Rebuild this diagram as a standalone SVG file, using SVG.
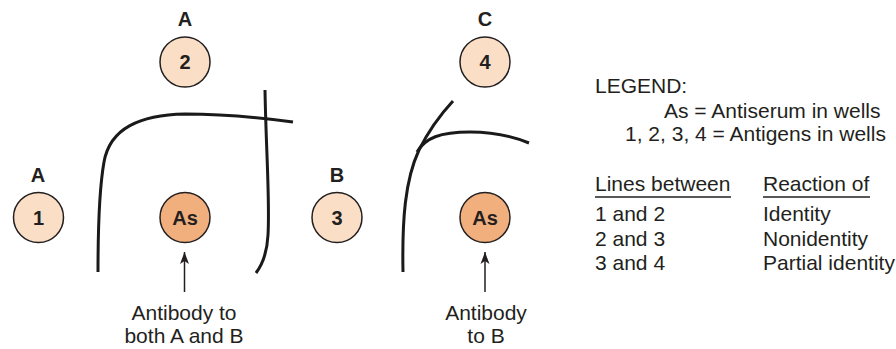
<svg xmlns="http://www.w3.org/2000/svg" width="896" height="349" viewBox="0 0 896 349">
<style>
text{font-family:"Liberation Sans",Arial,sans-serif;fill:#231f20}
.lbl{font-size:20px;font-weight:bold;text-anchor:middle}
.t{font-size:21px}
.c{text-anchor:middle}
.ag{fill:#fbdec6;stroke:#231f20;stroke-width:1.5}
.as{fill:#f2af7e;stroke:#231f20;stroke-width:1.5}
.line{fill:none;stroke:#1a1a1a;stroke-width:3;stroke-linecap:butt}
.arr{fill:none;stroke:#231f20;stroke-width:1.5}
.ul{stroke:#231f20;stroke-width:1.5}
</style>
<defs>
<marker id="ah" viewBox="0 0 12 10" refX="12" refY="5" markerWidth="13" markerHeight="10" markerUnits="userSpaceOnUse" orient="auto">
<path d="M0,0.5 L12,5 L0,9.5 L3,5 z" fill="#231f20"/>
</marker>
</defs>
<rect width="896" height="349" fill="#fff"/>
<g id="well-1"><text class="lbl" x="38" y="182">A</text><circle class="ag" cx="38.5" cy="217.5" r="25"/><text class="lbl" x="38.5" y="225">1</text></g>
<g id="well-2"><text class="lbl" x="185" y="26">A</text><circle class="ag" cx="185" cy="62" r="25"/><text class="lbl" x="185" y="69">2</text></g>
<g id="well-as1"><circle class="as" cx="185" cy="217.5" r="25"/><text class="lbl" x="185" y="225">As</text></g>
<g id="well-3"><text class="lbl" x="337" y="182">B</text><circle class="ag" cx="337" cy="217.5" r="25"/><text class="lbl" x="337" y="225">3</text></g>
<g id="well-4"><text class="lbl" x="485" y="26">C</text><circle class="ag" cx="485" cy="62" r="25"/><text class="lbl" x="485" y="69">4</text></g>
<g id="well-as2"><circle class="as" cx="485" cy="217.5" r="25"/><text class="lbl" x="485" y="225">As</text></g>
<g id="connectors">
<path class="line" d="M98,272 C98,230 99,190 104,162 C110,128 140,115 185,114 C222,114 256,117 293,122"/>
<path class="line" d="M265,90 C266,150 270,200 268,235 C267,255 262,265 256,273"/>
<path class="line" d="M403,272 C402,220 405,180 419,150 C428,132 440,115 453,101"/>
<path class="line" d="M417,152 C425,138 440,132 470,132 C495,132 512,136 529,143"/>
<path class="arr" d="M184.5,292 L184.5,252" marker-end="url(#ah)"/>
<path class="arr" d="M485,292 L485,252" marker-end="url(#ah)"/>
</g>
<g id="caption-1"><text class="t c" x="184" y="320">Antibody to</text><text class="t c" x="184" y="343">both A and B</text></g>
<g id="caption-2"><text class="t c" x="486" y="320">Antibody</text><text class="t c" x="486" y="343">to B</text></g>
<g id="legend">
<text class="t" x="595" y="93">LEGEND:</text>
<text class="t" x="664" y="117.5">As = Antiserum in wells</text>
<text class="t" x="625" y="141">1, 2, 3, 4 = Antigens in wells</text>
<text class="t" x="595" y="191">Lines between</text>
<line class="ul" x1="595" y1="197" x2="731" y2="197"/>
<text class="t" x="763" y="191">Reaction of</text>
<line class="ul" x1="763" y1="197" x2="870" y2="197"/>
<text class="t" x="595" y="221">1 and 2</text>
<text class="t" x="595" y="245.5">2 and 3</text>
<text class="t" x="595" y="270">3 and 4</text>
<text class="t" x="763" y="221">Identity</text>
<text class="t" x="763" y="245.5">Nonidentity</text>
<text class="t" x="763" y="270">Partial identity</text>
</g>
</svg>
